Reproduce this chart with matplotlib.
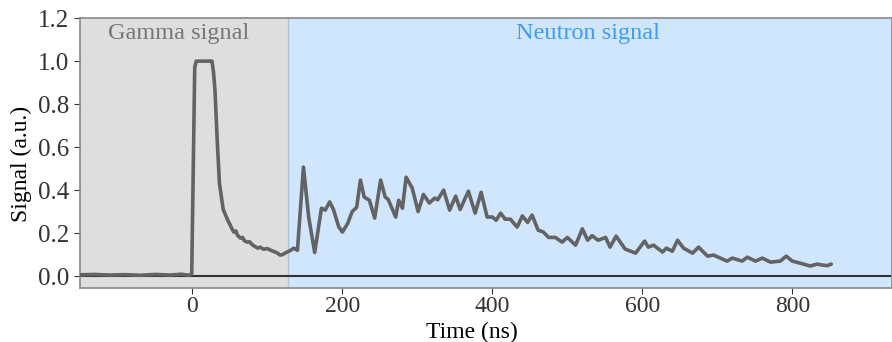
import matplotlib
matplotlib.use("Agg")
import matplotlib.pyplot as plt

# trace (time in ns, signal in a.u.)
time = [-150, -130, -110, -90, -70, -50, -30, -15, -5, -1,
        1, 3, 5, 26, 28, 30, 33, 36, 41, 47, 50, 52, 55, 58, 60, 64, 67, 69,
        73, 76, 80, 87, 90, 95, 100, 104, 108, 112, 117, 120, 125, 131, 135, 140,
        148, 155, 163, 172, 177, 183, 188, 195, 200, 207, 213, 219, 224, 229,
        236, 243, 251, 257, 261, 271, 275, 280, 285, 293, 301, 308, 316, 323,
        327, 335, 343, 351, 357, 368, 377, 385, 393, 400, 405, 411, 417, 424,
        433, 440, 447, 453, 461, 468, 475, 484, 493, 500, 511, 520, 527, 533,
        541, 551, 557, 565, 577, 591, 603, 608, 615, 627, 632, 640, 647, 655,
        667, 675, 687, 695, 713, 720, 733, 740, 751, 760, 771, 784, 792, 800,
        811, 824, 833, 841, 847, 852]
signal = [0.006, 0.008, 0.005, 0.007, 0.004, 0.008, 0.005, 0.009, 0.004, 0.01,
          0.5, 0.97, 1.0, 1.0, 0.95, 0.865, 0.63, 0.43, 0.31, 0.26, 0.24, 0.225, 0.205, 0.21, 0.19, 0.177, 0.18, 0.165,
          0.158, 0.16, 0.145, 0.13, 0.135, 0.125, 0.128, 0.121, 0.115, 0.11, 0.098, 0.10, 0.11, 0.12, 0.13, 0.12,
          0.507, 0.275, 0.11, 0.316, 0.307, 0.345, 0.31, 0.23, 0.205, 0.245, 0.3, 0.32, 0.447, 0.368,
          0.353, 0.27, 0.447, 0.368, 0.357, 0.275, 0.353, 0.316, 0.46, 0.41, 0.3, 0.38, 0.34, 0.363,
          0.355, 0.4, 0.307, 0.372, 0.31, 0.395, 0.293, 0.39, 0.275, 0.275, 0.26, 0.293, 0.265, 0.265,
          0.228, 0.28, 0.25, 0.284, 0.214, 0.205, 0.18, 0.18, 0.158, 0.18, 0.144, 0.22, 0.167, 0.188,
          0.167, 0.18, 0.135, 0.186, 0.126, 0.107, 0.163, 0.135, 0.144, 0.112, 0.13, 0.116, 0.167, 0.13,
          0.107, 0.135, 0.093, 0.098, 0.07, 0.084, 0.07, 0.088, 0.07, 0.084, 0.065, 0.07, 0.093, 0.07,
          0.06, 0.047, 0.056, 0.051, 0.049, 0.056]

gamma_end = 127
x_min, x_max = -150, 933

plt.rcParams["font.family"] = ["Liberation Serif", "DejaVu Serif"]

fig = plt.figure(figsize=(8.92, 3.42), dpi=100)
ax = fig.add_axes([0.0897, 0.158, 0.9103, 0.789])

ax.axvspan(x_min, gamma_end, color="#dedede", zorder=0)
ax.axvspan(gamma_end, x_max, color="#d0e6fc", zorder=0)
ax.axvline(gamma_end, color="#a9c3dc", lw=1, zorder=1)
ax.axhline(0, color="#333333", lw=1.5, zorder=2)
ax.plot(time, signal, color="#636363", lw=2.6, zorder=3,
        solid_joinstyle="round", solid_capstyle="round")

ax.text(-19, 1.13, "Gamma signal", color="#777777", fontsize=17.5, ha="center", va="center")
ax.text(527, 1.13, "Neutron signal", color="#3d9bff", fontsize=17.5, ha="center", va="center")

ax.set_xlim(x_min, x_max)
ax.set_ylim(-0.055, 1.2)
ax.set_xticks([0, 200, 400, 600, 800])
ax.set_yticks([0.0, 0.2, 0.4, 0.6, 0.8, 1.0, 1.2])
ax.set_yticklabels(["0.0", "0.2", "0.4", "0.6", "0.8", "1.0", "1.2"])
ax.tick_params(axis="y", labelsize=18, colors="#333333", length=4)
ax.tick_params(axis="x", labelsize=17, colors="#333333", length=4, pad=2)
ax.set_xlabel("Time (ns)", fontsize=17, va="center")
ax.set_ylabel("Signal (a.u.)", fontsize=17, va="center")
ax.xaxis.set_label_coords(0.482, -0.165)
ax.yaxis.set_label_coords(-0.072, 0.46)
for s in ax.spines.values():
    s.set_color("#888888")
    s.set_linewidth(1.2)

fig.savefig("out.png", dpi=100)
